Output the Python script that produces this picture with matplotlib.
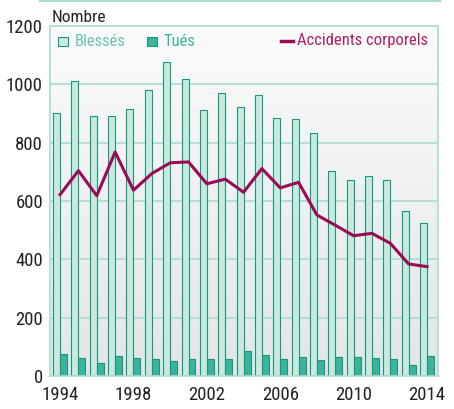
import numpy as np
import matplotlib.pyplot as plt
from matplotlib.colors import LinearSegmentedColormap
from matplotlib.patches import Rectangle
from matplotlib.lines import Line2D

plt.rcParams["font.family"] = ["Roboto Condensed", "Archivo Narrow", "DejaVu Sans"]

years = list(range(1994, 2015))
blesses = [903, 1012, 890, 893, 915, 982, 1078, 1019, 913, 970, 923, 965,
           886, 880, 832, 703, 671, 686, 671, 566, 523]
tues = [74, 62, 45, 69, 62, 60, 51, 59, 59, 58, 86, 73,
        58, 65, 54, 66, 65, 63, 58, 38, 69]
accidents = [622, 704, 618, 768, 637, 694, 731, 734, 659, 675, 630, 711,
             645, 664, 552, 517, 481, 489, 455, 384, 375]
xticks = [1994, 1998, 2002, 2006, 2010, 2014]
yticks = [0, 200, 400, 600, 800, 1000, 1200]

C_BLESSES = "#cbe8df"
C_BLESSES_TXT = "#6cc4b0"
C_TUES = "#3db39a"
C_EDGE = "#139a7e"
C_LINE = "#9b0a55"
C_LINE_TXT = "#b0206a"
C_GRID = "#aadccf"
C_TXT = "#222222"

fig = plt.figure(figsize=(4.54, 4.09), dpi=100)
ax = fig.add_axes([50 / 454, 1 - 376 / 409, 388 / 454, 350 / 409])

x = np.array(years, dtype=float)
w = 0.38
x0, x1 = 1993.45, 2014.6
ax.set_xlim(x0, x1)
ax.set_ylim(0, 1200)

# fond en dégradé
grad = np.linspace(0, 1, 256).reshape(-1, 1)
bg = LinearSegmentedColormap.from_list("bg", ["#e3e5e7", "#fbfbfb"])
ax.imshow(grad, extent=[x0, x1, 0, 1200], aspect="auto", cmap=bg,
          origin="lower", zorder=0)

for yv in yticks[1:-1]:
    ax.axhline(yv, color=C_GRID, lw=1.2, zorder=1)

ax.bar(x - w / 2, blesses, width=w, color=C_BLESSES, edgecolor=C_EDGE,
       linewidth=0.8, zorder=2)
ax.bar(x + w / 2, tues, width=w, color=C_TUES, edgecolor=C_EDGE,
       linewidth=0.8, zorder=2)
ax.plot(x, accidents, color=C_LINE, lw=2.2, zorder=3)

for s in ax.spines.values():
    s.set_color(C_GRID)
    s.set_linewidth(1.2)
ax.set_xticks(xticks)
ax.set_yticks(yticks)
ax.tick_params(length=0, labelsize=13.5, colors=C_TXT)
ax.tick_params(axis="x", pad=7)
ax.tick_params(axis="y", pad=5)

tr = fig.transFigure
def px(xp, yp):
    return xp / 454, 1 - yp / 409

fig.text(*px(52, 18), "Nombre", fontsize=12.5, color=C_TXT, va="center", ha="left")

# légende manuelle
fs = 12
fig.patches.append(Rectangle(px(58, 46), 10 / 454, 9 / 409, transform=tr,
                             facecolor=C_BLESSES, edgecolor=C_EDGE, lw=0.8))
fig.text(*px(75, 41), "Blessés", fontsize=fs, color=C_BLESSES_TXT, va="center")
fig.patches.append(Rectangle(px(147, 46), 10 / 454, 9 / 409, transform=tr,
                             facecolor=C_TUES, edgecolor=C_EDGE, lw=0.8))
fig.text(*px(163, 41), "Tués", fontsize=fs, color=C_TUES, va="center")
fig.lines.append(Line2D([281 / 454, 293 / 454], [1 - 41 / 409] * 2,
                        transform=tr, color=C_LINE, lw=2.5))
fig.text(*px(297, 41), "Accidents corporels", fontsize=fs, color=C_LINE_TXT,
         va="center")

# trait du haut
fig.lines.append(Line2D([40 / 454, 440 / 454], [1 - 0.8 / 409] * 2,
                        transform=tr, color=C_GRID, lw=1.5))

fig.savefig("out.png", dpi=100)
